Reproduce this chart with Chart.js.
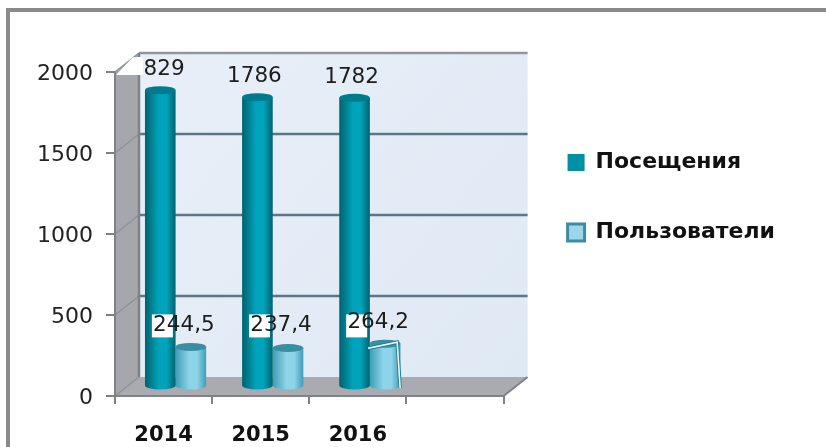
<!DOCTYPE html>
<html>
<head>
<meta charset="utf-8">
<script src="https://cdn.jsdelivr.net/npm/chart.js@4/dist/chart.umd.js"></script>
<style>
  html, body { margin: 0; padding: 0; background: #fff; overflow: hidden; }
  #wrap { position: relative; width: 826px; height: 447px; }
  #frame { position: absolute; left: 6px; top: 8px; right: 0; bottom: 0; border-left: 4px solid #8a8a8a; border-top: 4px solid #8a8a8a; }
</style>
</head>
<body>
<div id="wrap">
  <div id="frame"></div>
  <canvas id="myChart" width="826" height="447" style="position:absolute;left:0;top:0"></canvas>
</div>
<script>
const years = ["2014", "2015", "2016", ""];
const visits = [1829, 1786, 1782, null];
const users = [244.5, 237.4, 264.2, null];
const visitLabels = ["1829", "1786", "1782"];
const userLabels = ["244,5", "237,4", "264,2"];
const yTicks = [0, 500, 1000, 1500, 2000];

const depthX = 24;
const depthY = -19;
const font = "'DejaVu Sans'";

function drawWalls(ctx, chart) {
  const area = chart.chartArea;
  const y = chart.scales.y;
  const l = area.left, r = area.right, t = area.top, b = area.bottom;

  // back wall
  const wall = ctx.createLinearGradient(l + depthX, t + depthY, r + depthX, b + depthY);
  wall.addColorStop(0, "#e8eff8");
  wall.addColorStop(1, "#dfe9f4");
  ctx.fillStyle = wall;
  ctx.fillRect(l + depthX, t + depthY, r - l, b - t);

  // left wall
  ctx.fillStyle = "#a6a7ad";
  ctx.beginPath();
  ctx.moveTo(l, t);
  ctx.lineTo(l + depthX, t + depthY);
  ctx.lineTo(l + depthX, b + depthY);
  ctx.lineTo(l, b);
  ctx.closePath();
  ctx.fill();

  // floor
  ctx.fillStyle = "#a9abb0";
  ctx.beginPath();
  ctx.moveTo(l, b);
  ctx.lineTo(l + depthX, b + depthY);
  ctx.lineTo(r + depthX, b + depthY);
  ctx.lineTo(r, b);
  ctx.closePath();
  ctx.fill();

  // grid lines
  yTicks.forEach(function (v) {
    const py = y.getPixelForValue(v);
    ctx.strokeStyle = "#8e9398";
    ctx.lineWidth = 1.5;
    ctx.beginPath();
    ctx.moveTo(l, py);
    ctx.lineTo(l + depthX, py + depthY);
    ctx.stroke();
    if (v > 0) {
      ctx.strokeStyle = v == 2000 ? "#92969b" : "#5c7784";
      ctx.lineWidth = 2.5;
      ctx.beginPath();
      ctx.moveTo(l + depthX, py + depthY);
      ctx.lineTo(r + depthX, py + depthY);
      ctx.stroke();
    }
  });

  ctx.strokeStyle = "#7f8388";
  ctx.lineWidth = 2.5;
  ctx.beginPath();
  ctx.moveTo(l + depthX, t + depthY);
  ctx.lineTo(l + depthX, b + depthY);
  ctx.stroke();
  ctx.lineWidth = 2;
  ctx.beginPath();
  ctx.moveTo(l, t);
  ctx.lineTo(l, b);
  ctx.lineTo(r, b);
  ctx.lineTo(r + depthX, b + depthY);
  ctx.stroke();
}

function drawCylinder(ctx, bar, colors) {
  const x = bar.x + depthX / 2;
  const top = bar.y + depthY / 2;
  const base = bar.base + depthY / 2;
  const hw = bar.width / 2;
  const ry = 4;
  const side = ctx.createLinearGradient(x - hw, 0, x + hw, 0);
  side.addColorStop(0, colors[0]);
  side.addColorStop(0.45, colors[1]);
  side.addColorStop(0.7, colors[1]);
  side.addColorStop(1, colors[0]);
  ctx.fillStyle = side;
  ctx.beginPath();
  ctx.moveTo(x - hw, top);
  ctx.lineTo(x - hw, base);
  ctx.ellipse(x, base, hw, ry, 0, Math.PI, 0, true);
  ctx.lineTo(x + hw, top);
  ctx.closePath();
  ctx.fill();
  ctx.fillStyle = colors[2];
  ctx.beginPath();
  ctx.ellipse(x, top, hw, ry, 0, 0, Math.PI * 2);
  ctx.fill();
}

const scenePlugin = {
  id: "scene",
  beforeDatasetsDraw(chart) {
    const ctx = chart.ctx;
    ctx.save();
    drawWalls(ctx, chart);
    chart.getDatasetMeta(1).data.forEach(function (bar, i) {
      if (users[i] != null) drawCylinder(ctx, bar, ["#3f9db7", "#8ed4e8", "#3a8ea3"]);
    });
    chart.getDatasetMeta(0).data.forEach(function (bar, i) {
      if (visits[i] != null) drawCylinder(ctx, bar, ["#00626f", "#00a3bb", "#007a8d"]);
    });
    ctx.restore();
  },
  // the flat bars are replaced by the cylinders above
  beforeDatasetDraw() {
    return false;
  },
  afterDatasetsDraw(chart) {
    const ctx = chart.ctx;
    const big = chart.getDatasetMeta(0).data;
    const small = chart.getDatasetMeta(1).data;
    ctx.save();
    ctx.textAlign = "center";
    ctx.textBaseline = "middle";
    ctx.font = "21.5px " + font;

    visitLabels.forEach(function (txt, i) {
      ctx.fillStyle = "#1c1c1c";
      ctx.fillText(txt, big[i].x + 9, big[i].y - 30);
    });

    // white scars the scan left around the low labels
    userLabels.forEach(function (txt, i) {
      const bx = small[i].x;
      const py = chart.scales.y.getPixelForValue(users[0]) - 31;
      ctx.fillStyle = "#fff";
      ctx.fillRect(bx - 27, py - 11, 21, 23);
      ctx.fillStyle = "#1c1c1c";
      ctx.fillText(txt, bx + 5, py + (i == 2 ? -3 : 0));
    });

    // scar over the first digit of 1829, the wall corner stays visible above it
    const a = chart.chartArea;
    ctx.fillStyle = "#fff";
    ctx.beginPath();
    ctx.moveTo(a.left + 1, a.top + 3);
    ctx.lineTo(a.left + 18, a.top - 15);
    ctx.lineTo(a.left + 28, a.top - 15);
    ctx.lineTo(a.left + 28, a.top + 3);
    ctx.closePath();
    ctx.fill();

    // outline scar round the last small bar
    const s = small[2];
    [["#1f8398", 3.5], ["#fff", 1.5]].forEach(function (pen) {
      ctx.strokeStyle = pen[0];
      ctx.lineWidth = pen[1];
      ctx.beginPath();
      ctx.moveTo(s.x - 5, s.y - 5);
      ctx.lineTo(s.x + 24, s.y - 11);
      ctx.lineTo(s.x + 27, s.base - 7);
      ctx.stroke();
    });
    ctx.restore();
  },
  afterLayout(chart) {
    chart.legend.left += 16;
    chart.legend.right += 16;
    chart.legend.top -= 62;
    chart.legend.bottom -= 62;
  }
};

new Chart(document.getElementById("myChart"), {
  type: "bar",
  data: {
    labels: years,
    datasets: [
      { label: "Посещения", data: visits, backgroundColor: "#0090a6", borderColor: "#0090a6", borderWidth: 0 },
      { label: "Пользователи", data: users, backgroundColor: "#9bd6ea", borderColor: "#3f8aa3", borderWidth: 3 }
    ]
  },
  options: {
    responsive: false,
    animation: false,
    categoryPercentage: 0.63,
    barPercentage: 1,
    layout: { autoPadding: false, padding: { top: 72, right: 57, bottom: 0, left: 0 } },
    scales: {
      x: {
        afterFit: function (scale) { scale.height = 51; },
        grid: { offset: true, drawOnChartArea: false, tickLength: 8, tickColor: "#808080", lineWidth: 2 },
        border: { display: false },
        ticks: { color: "#111", padding: 19, maxRotation: 0, font: { family: font, size: 21, weight: "bold" } }
      },
      y: {
        min: 0,
        max: 2000,
        afterFit: function (scale) { scale.width = 115; },
        afterBuildTicks: function (scale) { scale.ticks = yTicks.map(function (v) { return { value: v }; }); },
        grid: { drawOnChartArea: false, tickLength: 9, tickColor: "#808080", lineWidth: 2 },
        border: { display: false },
        ticks: { color: "#222", padding: 13, labelOffset: 2, callback: function (v) { return String(v); }, font: { family: font, size: 22 } }
      }
    },
    plugins: {
      tooltip: { enabled: false },
      legend: {
        position: "right",
        align: "center",
        maxWidth: 322,
        labels: {
          color: "#111",
          boxWidth: 17,
          boxHeight: 17,
          padding: 48,
          font: { family: font, size: 22, weight: "bold" }
        }
      }
    }
  },
  plugins: [scenePlugin]
});
</script>
</body>
</html>
